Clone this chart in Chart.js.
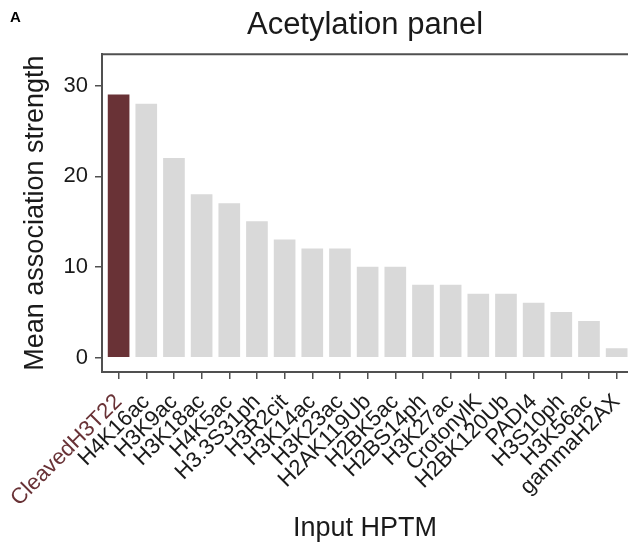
<!DOCTYPE html>
<html>
<head>
<meta charset="utf-8">
<script src="https://cdn.jsdelivr.net/npm/chart.js@4.4.1/dist/chart.umd.min.js"></script>
<style>
  html, body { margin: 0; padding: 0; background: #fff; }
  #wrap { width: 628px; height: 549px; }
</style>
</head>
<body>
<div id="wrap"><canvas id="chart" width="628" height="549"></canvas></div>
<script>
const categories = ['CleavedH3T22', 'H4K16ac', 'H3K9ac', 'H3K18ac', 'H4K5ac', 'H3.3S31ph', 'H3R2cit', 'H3K14ac', 'H3K23ac', 'H2AK119Ub', 'H2BK5ac', 'H2BS14ph', 'H3K27ac', 'CrotonylK', 'H2BK120Ub', 'PADI4', 'H3S10ph', 'H3K56ac', 'gammaH2AX'];
const strength = [29, 28, 22, 18, 17, 15, 13, 12, 12, 10, 10, 8, 8, 7, 7, 6, 5, 4, 1];
const yTicks = [0, 10, 20, 30];

const highlight = '#693236';
const grey = '#d9d9d9';
const axisColor = '#505050';
const textColor = '#1a1a1a';
const fontFamily = '"Liberation Sans", Arial, Helvetica, sans-serif';

// panel letter + top frame line
const framePlugin = {
  id: 'frame',
  afterDraw(chart) {
    const { ctx, chartArea } = chart;
    ctx.save();
    ctx.strokeStyle = axisColor;
    ctx.lineWidth = 2;
    ctx.beginPath();
    ctx.moveTo(chartArea.left - 1, chartArea.top);
    ctx.lineTo(chartArea.right, chartArea.top);
    ctx.stroke();
    ctx.fillStyle = '#000';
    ctx.font = 'bold 15px ' + fontFamily;
    ctx.textBaseline = 'middle';
    ctx.fillText('A', 10, 18);
    ctx.restore();
  }
};

new Chart(document.getElementById('chart'), {
  type: 'bar',
  data: {
    datasets: [{
      data: strength.map((v, i) => ({ x: i, y: v })),
      backgroundColor: strength.map((v, i) => (i === 0 ? highlight : grey)),
      borderWidth: 0,
      barThickness: 21
    }]
  },
  options: {
    responsive: false,
    animation: false,
    layout: { padding: 0 },
    plugins: {
      legend: { display: false },
      tooltip: { enabled: false },
      title: {
        display: true,
        text: 'Acetylation panel',
        fullSize: false,
        color: textColor,
        font: { family: fontFamily, size: 31, weight: 'normal' },
        padding: { top: 7, bottom: 10 }
      }
    },
    scales: {
      x: {
        type: 'linear',
        min: -0.6,
        max: 18.41,
        offset: false,
        afterBuildTicks: (scale) => { scale.ticks = categories.map((c, i) => ({ value: i })); },
        afterFit: (scale) => {
          scale.height = 177;
          scale.paddingLeft = 0;
          scale.paddingRight = 0;
        },
        border: { display: true, color: axisColor, width: 2 },
        grid: { offset: false, drawOnChartArea: false, color: axisColor, tickLength: 7, lineWidth: 1.5 },
        ticks: {
          autoSkip: false,
          minRotation: 45,
          maxRotation: 45,
          padding: 10,
          font: { family: fontFamily, size: 22 },
          color: (ctx) => (ctx.index === 0 ? highlight : textColor),
          callback: (value) => categories[value] || ''
        },
        title: {
          display: true,
          text: 'Input HPTM',
          color: textColor,
          font: { family: fontFamily, size: 27 },
          padding: { top: 0, bottom: 4 }
        }
      },
      y: {
        min: -1.6,
        max: 33.5,
        afterFit: (scale) => { scale.width = 102; },
        afterBuildTicks: (scale) => { scale.ticks = yTicks.map((v) => ({ value: v })); },
        border: { display: true, color: axisColor, width: 2 },
        grid: { drawOnChartArea: false, color: axisColor, tickLength: 7, lineWidth: 1.5 },
        ticks: {
          padding: 7,
          font: { family: fontFamily, size: 22 },
          color: textColor
        },
        title: {
          display: true,
          text: 'Mean association strength',
          color: textColor,
          font: { family: fontFamily, size: 27 },
          padding: { top: 19, bottom: 0 }
        }
      }
    }
  },
  plugins: [framePlugin]
});
</script>
</body>
</html>
